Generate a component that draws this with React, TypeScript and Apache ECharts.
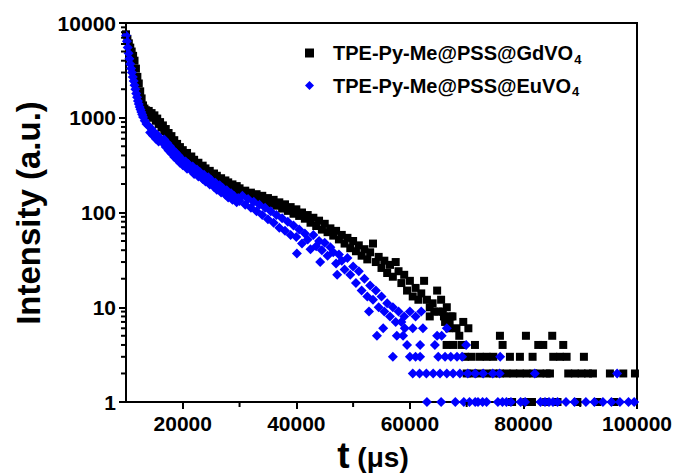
import React, { useEffect, useRef } from 'react';
import * as echarts from 'echarts';

const FONT = '"Liberation Sans", Arial, Helvetica, sans-serif';

// Axis tick values
const xTickLabels = [20000, 40000, 60000, 80000, 100000];
const xMinorTicks = [30000, 50000, 70000, 90000];
const yTickLabels = [1, 10, 100, 1000, 10000];
const yMinorTicks = [
  2, 3, 4, 5, 6, 7, 8, 9,
  20, 30, 40, 50, 60, 70, 80, 90,
  200, 300, 400, 500, 600, 700, 800, 900,
  2000, 3000, 4000, 5000, 6000, 7000, 8000, 9000,
];

const seriesNames = ['TPE-Py-Me@PSS@GdVO4', 'TPE-Py-Me@PSS@EuVO4'];

// TPE-Py-Me@PSS@GdVO4 : decay part [t (us), intensity]
const gdDecay: [number, number][] = [
  [10000, 7600], [10250, 6800], [10500, 6100], [10750, 5500], [11000, 5000], [11250, 4500],
  [11500, 4000], [11750, 3300], [12000, 2700], [12250, 2300], [12500, 1900], [12750, 1600],
  [13000, 1350], [13250, 1250], [13500, 1200], [13750, 1180],
  [14000, 1180], [14250, 1050], [14500, 1120], [14750, 1000], [15000, 1060], [15250, 930],
  [15500, 980], [15750, 860], [16000, 900], [16250, 790], [16500, 830], [16750, 720],
  [17000, 760], [17250, 660], [17500, 690], [17750, 600], [18000, 640], [18250, 550],
  [18500, 580], [18750, 500], [19000, 530], [19250, 460], [19500, 490], [19750, 430],
  [20000, 455], [20500, 400], [20750, 425], [21000, 370], [21500, 390], [21750, 340],
  [22000, 360], [22500, 315], [22750, 335], [23000, 292], [23500, 312], [23750, 272],
  [24000, 292], [24500, 255], [24750, 275], [25000, 240], [25500, 258], [25750, 226],
  [26000, 244], [26500, 214], [26750, 230], [27000, 203], [27500, 218], [27750, 194],
  [28000, 208], [28500, 184], [28750, 198], [29000, 176], [29500, 190], [29750, 168],
  [30000, 180], [30500, 160], [31000, 170], [31500, 152], [32000, 162], [32500, 146],
  [33000, 156], [33500, 138], [34000, 150], [34500, 130], [35000, 142], [35500, 124],
  [36000, 136], [36500, 118], [37000, 128], [37500, 110], [38000, 122], [38500, 104],
  [39000, 114], [39500, 97], [40000, 108], [40500, 92], [41000, 100], [41500, 86],
  [42000, 94], [42500, 78], [43000, 88], [43500, 72], [44000, 82], [44500, 66],
  [45000, 76], [45500, 62], [46000, 68], [46500, 57], [47000, 64], [47500, 52],
  [48000, 58], [48500, 47], [49000, 54], [49500, 42], [50000, 50], [50500, 39],
  [51000, 45], [51500, 35], [52000, 41], [52500, 32], [53000, 38], [53500, 47],
  [54000, 30], [54500, 34], [55000, 26], [55500, 31], [56000, 23], [56500, 28],
  [57000, 21], [57500, 30], [58000, 24], [58500, 18], [59000, 22], [59500, 15],
  [60000, 19], [60500, 13], [61000, 16], [61500, 12], [62000, 14], [62500, 19],
  [63000, 12], [63500, 10], [64000, 11], [64800, 15], [65000, 9], [65500, 12],
  [66000, 8], [66500, 10], [67000, 7], [67500, 8],
];

// TPE-Py-Me@PSS@GdVO4 : low-count tail
const gdTail: [number, number][] = [
  [70000, 2], [71170, 2], [72340, 2], [73520, 2], [74690, 2], [75860, 2], [77040, 2], [78210, 2],
  [79380, 2], [80560, 2], [81730, 2], [82900, 2], [84080, 2], [84670, 2], [87890, 2], [89060, 2],
  [90240, 2], [91360, 2], [92240, 2], [95230, 2], [97580, 2], [99640, 2],
  [69700, 3], [70880, 3], [72340, 3], [73520, 3], [74690, 3], [77620, 3], [79380, 3], [81610, 3],
  [85250, 3], [86430, 3], [87600, 3], [90650, 3],
  [66470, 4], [67640, 4], [69110, 4], [71460, 4], [76330, 4], [82610, 4], [83490, 4], [87010, 4],
  [68700, 5], [75860, 5], [80440, 5], [85070, 5],
  [66900, 6], [68200, 6], [70300, 6],
  [66200, 7], [69400, 7],
  [63500, 8], [67200, 8],
  [64300, 9], [65800, 9],
  [78000, 1], [80500, 1], [81500, 1], [84000, 1], [86000, 1], [89500, 1], [93000, 1], [96000, 1],
];

// TPE-Py-Me@PSS@EuVO4 : decay part
const euDecay: [number, number][] = [
  [10000, 7400], [10150, 6400], [10300, 5500], [10450, 4800], [10600, 4200], [10750, 3700],
  [10900, 3300], [11050, 3000], [11200, 2700], [11350, 2450], [11500, 2200], [11650, 2000],
  [11800, 1800], [11950, 1650], [12100, 1500], [12250, 1400], [12400, 1300], [12550, 1220],
  [12700, 1150], [12850, 1080], [13000, 1020], [13300, 930], [13600, 860],
  [14000, 820], [14250, 700], [14500, 760], [14750, 650], [15000, 700], [15250, 600],
  [15500, 660], [15750, 560], [16000, 610], [16500, 540], [16750, 590], [17000, 490],
  [17250, 540], [17500, 450], [17750, 500], [18000, 420], [18250, 460], [18500, 385],
  [18750, 430], [19000, 360], [19250, 400], [19500, 335], [19750, 370], [20000, 315],
  [20500, 345], [20750, 290], [21000, 325], [21500, 275], [21750, 305], [22000, 255],
  [22500, 285], [22750, 240], [23000, 268], [23500, 226], [23750, 250], [24000, 212],
  [24500, 236], [24750, 198], [25000, 220], [25500, 186], [25750, 206], [26000, 174],
  [26500, 194], [26750, 163], [27000, 182], [27500, 154], [27750, 172], [28000, 144],
  [28500, 160], [28750, 136], [29000, 150], [29500, 128], [29750, 142],
  [30000, 132], [30500, 150], [31000, 121], [31500, 139], [32000, 112],
  [32500, 130], [33000, 103], [33500, 121], [34000, 94], [34500, 112], [35000, 85],
  [35500, 103], [36000, 78], [36500, 94], [37000, 69], [37500, 87], [38000, 64],
  [38500, 80], [39000, 58], [39500, 73], [40000, 55], [40100, 37], [40500, 66],
  [41000, 47], [41500, 60], [42000, 52], [42500, 41], [43000, 58], [43500, 44],
  [44000, 50], [44200, 30], [44500, 40], [45000, 48], [45500, 35], [46000, 43],
  [46500, 38], [47000, 29], [47200, 22], [47500, 36], [48000, 31], [48500, 25],
  [49000, 33], [49500, 22], [50000, 27], [50500, 18], [51000, 24], [51500, 15],
  [52000, 20], [52500, 13], [52800, 9], [53000, 17], [53500, 12], [54000, 15],
  [54500, 10], [55000, 13], [55500, 9], [56000, 11], [56500, 8], [57000, 10],
  [57500, 7], [58000, 9], [58500, 7], [59000, 8], [60000, 9], [61000, 8], [62000, 9],
];

// TPE-Py-Me@PSS@EuVO4 : low-count tail
const euTail: [number, number][] = [
  [55300, 6], [59100, 6], [60500, 6], [62300, 6], [66500, 6],
  [54200, 5], [57700, 5], [58800, 5], [64800, 5], [65600, 5],
  [59500, 4], [61800, 4], [64400, 4], [69900, 4],
  [57000, 3], [60000, 3], [61000, 3], [61800, 3], [65000, 3], [66200, 3], [67200, 3],
  [68300, 3], [69200, 3], [75900, 3],
  [60500, 2], [61700, 2], [62900, 2], [64100, 2], [65300, 2], [66500, 2], [67600, 2],
  [68800, 2], [70200, 2], [71500, 2], [72900, 2], [74600, 2], [75800, 2], [82000, 2], [96500, 2],
  [63000, 1], [65500, 1], [68000, 1], [69500, 1], [70500, 1], [71500, 1], [72000, 1],
  [72800, 1], [73500, 1], [75500, 1], [76300, 1], [77000, 1], [77800, 1], [79500, 1],
  [80300, 1], [83000, 1], [83800, 1], [84500, 1], [85200, 1], [86000, 1], [87500, 1],
  [89000, 1], [91000, 1], [92500, 1], [94000, 1], [95500, 1], [97000, 1], [98500, 1], [99500, 1],
];

const X_MIN = 10000;
const X_MAX = 100000;
const Y_MIN = 1;
const Y_MAX = 10000;

export default function App() {
  const ref = useRef<HTMLDivElement>(null);

  useEffect(() => {
    if (!ref.current) return;
    const chart = echarts.init(ref.current, null, { renderer: 'svg' });
    const labelStyle = {
      color: '#000',
      fontFamily: FONT,
      fontWeight: 'bold' as const,
      fontSize: 21,
    };

    const option: any = {
      animation: false,
      backgroundColor: '#fff',
      grid: {
        left: 126,
        right: 39,
        top: 23,
        bottom: 74,
        show: true,
        borderColor: '#000',
        borderWidth: 2,
      },
      legend: {
        orient: 'vertical',
        left: 300,
        top: 38,
        itemWidth: 9,
        itemHeight: 9,
        itemGap: 10,
        data: [
          { name: seriesNames[0], icon: 'rect' },
          { name: seriesNames[1], icon: 'diamond' },
        ],
        formatter: (n: string) => n.slice(0, -1) + '{sub|' + n.slice(-1) + '}',
        textStyle: {
          color: '#000',
          fontFamily: FONT,
          fontWeight: 'bold',
          fontSize: 20,
          padding: [0, 0, 0, 14],
          rich: {
            sub: {
              color: '#000',
              fontFamily: FONT,
              fontWeight: 'bold',
              fontSize: 13,
              padding: [12, 0, 0, 1],
            },
          },
        },
      },
      xAxis: {
        type: 'value',
        min: X_MIN,
        max: X_MAX,
        position: 'bottom',
        axisLine: { show: true, onZero: false, lineStyle: { color: '#000', width: 2 } },
        axisTick: {
          show: true,
          inside: false,
          length: 7,
          customValues: xTickLabels,
          lineStyle: { color: '#000', width: 2 },
        },
        axisLabel: {
          ...labelStyle,
          margin: 11,
          customValues: xTickLabels,
          formatter: (v: number) => String(Math.round(v)),
        },
        splitLine: { show: false },
      },
      yAxis: {
        type: 'log',
        logBase: 10,
        min: Y_MIN,
        max: Y_MAX,
        position: 'left',
        axisLine: { show: true, lineStyle: { color: '#000', width: 2 } },
        axisTick: { show: true, inside: false, length: 7, lineStyle: { color: '#000', width: 2 } },
        axisLabel: {
          ...labelStyle,
          margin: 10,
          formatter: (v: number) => String(Math.round(v)),
        },
        splitLine: { show: false },
      },
      series: [
        {
          name: seriesNames[0],
          type: 'scatter',
          symbol: 'rect',
          symbolSize: 8,
          itemStyle: { color: '#000', opacity: 1 },
          data: [...gdDecay, ...gdTail],
          clip: true,
          z: 2,
        },
        {
          name: seriesNames[1],
          type: 'scatter',
          symbol: 'diamond',
          symbolSize: 10,
          itemStyle: { color: '#0000ff', opacity: 1 },
          data: [...euDecay, ...euTail],
          clip: true,
          z: 3,
        },
        {
          name: 'minorTicks',
          type: 'custom',
          silent: true,
          clip: false,
          z: 5,
          data: [
            ...yMinorTicks.map((v) => [X_MIN, v, 0]),
            ...xMinorTicks.map((v) => [v, Y_MIN, 1]),
          ],
          renderItem: (_p: any, api: any) => {
            const p = api.coord([api.value(0), api.value(1)]);
            const horiz = api.value(2) === 0;
            return {
              type: 'rect',
              shape: horiz
                ? { x: p[0] - 5, y: p[1] - 1, width: 5, height: 2 }
                : { x: p[0] - 1, y: p[1], width: 2, height: 5 },
              style: { fill: '#000' },
            };
          },
        },
      ],
      graphic: [
        {
          type: 'text',
          x: 28,
          y: 213,
          rotation: Math.PI / 2,
          style: {
            text: 'Intensity (a.u.)',
            fill: '#000',
            font: `bold 33px ${FONT}`,
            align: 'center',
            verticalAlign: 'middle',
          },
        },
        {
          type: 'text',
          x: 373,
          y: 455,
          style: {
            text: '{t|t}{u| (μs)}',
            align: 'center',
            verticalAlign: 'middle',
            rich: {
              t: { fontFamily: FONT, fontWeight: 'bold', fontSize: 37, fill: '#000' },
              u: { fontFamily: FONT, fontWeight: 'bold', fontSize: 28, fill: '#000', padding: [4, 0, 0, 0] },
            },
          },
        },
      ],
    };
    chart.setOption(option);
    return () => chart.dispose();
  }, []);

  return (
    <div
      ref={ref}
      style={{ position: 'fixed', left: 0, top: 0, width: 676, height: 476, background: '#fff' }}
    />
  );
}
